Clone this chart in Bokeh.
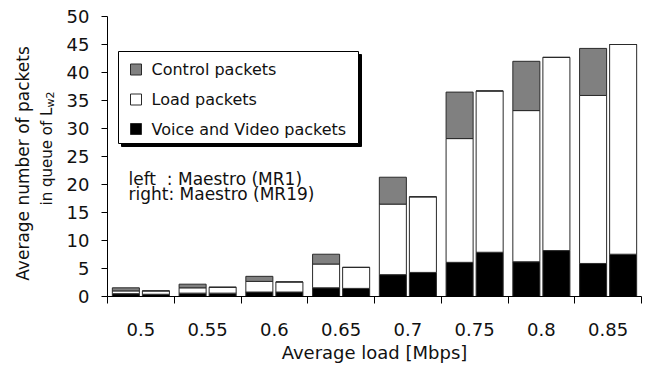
import numpy as np
from bokeh.plotting import figure
from bokeh.layouts import row
from bokeh.models import ColumnDataSource, FixedTicker, Label, Range1d
from bokeh.transform import dodge
from bokeh.embed import file_html
from bokeh.resources import INLINE

# Offered load per group (Mbps) and the two Maestro runs drawn side by side
loads = ["0.5", "0.55", "0.6", "0.65", "0.7", "0.75", "0.8", "0.85"]

# left bars: Maestro (MR1)
left_voice = [0.5, 0.6, 0.8, 1.55, 3.9, 6.1, 6.2, 5.9]
left_load = [0.5, 0.95, 1.9, 4.25, 12.6, 22.1, 27.0, 30.0]
left_control = [0.55, 0.65, 0.9, 1.75, 4.8, 8.3, 8.8, 8.4]

# right bars: Maestro (MR19)
right_voice = [0.4, 0.6, 0.8, 1.45, 4.3, 7.9, 8.2, 7.55]
right_load = [0.6, 1.05, 1.8, 3.75, 13.5, 28.8, 34.5, 37.45]
right_control = [0.0, 0.0, 0.0, 0.0, 0.0, 0.0, 0.0, 0.0]

y_ticks = [0, 5, 10, 15, 20, 25, 30, 35, 40, 45, 50]

FONT = "DejaVu Sans"
INK = "#111111"
COLORS = ["#000000", "#ffffff", "#808080"]  # voice/video, load, control
EDGE = "#2a2a2a"

W, H = 645, 365
TW = 60                      # strip on the left holding the y-axis title
BL, BR, BT, BB = 107, 4, 16, 69
n = len(loads)

p = figure(width=W - TW, height=H, output_backend="svg", toolbar_location=None,
           x_range=Range1d(0, n), y_range=Range1d(0, 50),
           min_border_left=BL - TW, min_border_right=BR,
           min_border_top=BT, min_border_bottom=BB)
p.outline_line_color = None
p.xgrid.grid_line_color = None
p.ygrid.grid_line_color = None
p.background_fill_color = "white"
p.border_fill_color = "white"

x_centers = list(np.arange(n) + 0.5)
src_left = ColumnDataSource(dict(x=x_centers, voice=left_voice, load=left_load,
                                 control=left_control))
src_right = ColumnDataSource(dict(x=x_centers, voice=right_voice, load=right_load,
                                  control=right_control))

stack = ["voice", "load", "control"]
bw = 0.405
p.vbar_stack(stack, x=dodge("x", -0.225), width=bw, source=src_left,
             fill_color=COLORS, line_color=EDGE, line_width=1)
p.vbar_stack(stack, x=dodge("x", 0.225), width=bw, source=src_right,
             fill_color=COLORS, line_color=EDGE, line_width=1)

# x axis: labels at group centres, short ticks at group boundaries
xa = p.xaxis[0]
xa.ticker = FixedTicker(ticks=x_centers, minor_ticks=list(range(n + 1)))
xa.major_label_overrides = {float(c): lab for c, lab in zip(x_centers, loads)}
xa.major_tick_in = 0
xa.major_tick_out = 0
xa.minor_tick_in = 0
xa.minor_tick_out = 7
xa.minor_tick_line_color = "black"
xa.major_label_standoff = 19
xa.axis_label = "Average load [Mbps]"
xa.axis_label_standoff = 3
xa.axis_label_text_font = FONT
xa.axis_label_text_font_size = "18px"
xa.axis_label_text_font_style = "normal"
xa.axis_label_text_color = INK

ya = p.yaxis[0]
ya.ticker = FixedTicker(ticks=y_ticks, minor_ticks=[])
ya.major_tick_in = 0
ya.major_tick_out = 6
ya.major_label_standoff = 12

for ax in (xa, ya):
    ax.axis_line_color = "black"
    ax.axis_line_width = 1
    ax.major_tick_line_color = "black"
    ax.major_label_text_font = FONT
    ax.major_label_text_font_size = "18px"
    ax.major_label_text_color = INK


# helpers: place decorations by page pixel position inside the fixed frame
fw = W - BL - BR
fh = H - BT - BB


def X(px):
    return (px - BL) / fw * n


def Y(py):
    return (H - BB - py) / fh * 50


# legend box with drop shadow
p.quad(left=[X(121)], right=[X(361)], top=[Y(54)], bottom=[Y(146)],
       fill_color="black", line_color="black")
p.quad(left=[X(118)], right=[X(358)], top=[Y(51)], bottom=[Y(143)],
       fill_color="white", line_color="black", line_width=1)

legend_items = ["Control packets", "Load packets", "Voice and Video packets"]
legend_fill = [COLORS[2], COLORS[1], COLORS[0]]
legend_py = [69, 99, 128.5]
p.scatter(x=[X(135.5)] * 3, y=[Y(v) for v in legend_py], marker="square", size=11,
          fill_color=legend_fill, line_color=EDGE, line_width=1)
for txt, py in zip(legend_items, legend_py):
    p.add_layout(Label(x=X(151), y=Y(py), text=txt, text_font=FONT,
                       text_font_size="16px", text_color=INK,
                       text_baseline="middle", text_align="left"))

# run description
for txt, py in [("left\u00a0\u00a0: Maestro (MR1)", 178), ("right: Maestro (MR19)", 193.5)]:
    p.add_layout(Label(x=X(128), y=Y(py), text=txt, text_font=FONT,
                       text_font_size="17px", text_color=INK,
                       text_baseline="alphabetic", text_align="left"))

# narrow strip with the two-line rotated y-axis title; its frame lines up with
# the chart frame, so the y range is set to page pixels (measured upward)
t = figure(width=TW, height=H, output_backend="svg", toolbar_location=None,
           x_range=Range1d(0, TW), y_range=Range1d(H - (H - BB), H - BT),
           x_axis_location=None, y_axis_location=None,
           min_border=0, min_border_left=0, min_border_right=0,
           min_border_top=BT, min_border_bottom=BB)
t.outline_line_color = None
t.xgrid.grid_line_color = None
t.ygrid.grid_line_color = None
t.border_fill_color = "white"


def title_label(x, py, text, size):
    return Label(x=x, y=H - py, text=text, angle=np.pi / 2,
                 text_font=FONT, text_font_size=size, text_color=INK,
                 text_align="center", text_baseline="middle")


t.add_layout(title_label(22, 163, "Average number of packets", "17px"))
t.add_layout(title_label(46, 156, "in queue of L", "15px"))
t.add_layout(title_label(50, 99, "w2", "11px"))

layout = row(t, p, spacing=0)
open("out.html", "w").write(file_html(layout, INLINE))
